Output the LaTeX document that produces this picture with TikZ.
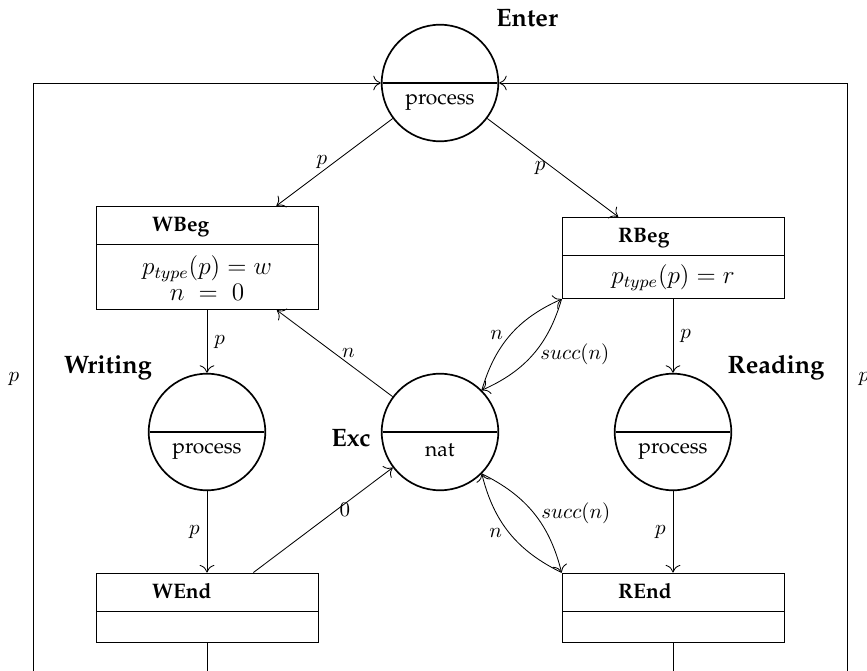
\documentclass[tikz,border=0pt]{standalone}
\usepackage[T1]{fontenc}
\usepackage{palatino}
\usepackage{amsmath}
\usetikzlibrary{shapes.multipart,arrows.meta}

\begin{document}
\begin{tikzpicture}[x=0.476pt,y=0.476pt,>={Computer Modern Rightarrow[length=3.6pt,width=7pt]}]
 \tikzstyle{placenode} = [circle split,draw,thick,minimum size=55.5pt,inner xsep=3pt,inner ysep=5pt]
 \tikzstyle{transbox} = [rectangle split,rectangle split parts=2,draw,text width=99.7pt,inner xsep=3pt,inner ysep=2pt,align=flush center]
 \tikzstyle{namelbl} = [font=\large\bfseries]
 \newcommand{\ttl}[1]{\makebox[52.3pt][l]{\rule[-4.1pt]{0pt}{14pt}\textbf{#1}}}
 \newcommand{\emptypart}{\rule[-3.5pt]{0pt}{10.1pt}}

 \useasboundingbox (0,0) rectangle (867,-671);
 \clip (0,0) rectangle (867,-671);

% Places
 \node[placenode] (enter) at (440,-83) {\nodepart{lower}process};
 \node[placenode] (writing) at (207,-432) {\nodepart{lower}process};
 \node[placenode] (exc) at (440,-432) {\nodepart{lower}nat};
 \node[placenode] (reading) at (673,-432) {\nodepart{lower}process};
 \node[namelbl] (enterlbl) at (527,-18) {Enter};
 \node[namelbl] (writinglbl) at (108,-368) {Writing};
 \node[namelbl] (exclbl) at (351,-438) {Exc};
 \node[namelbl] (readinglbl) at (776,-368) {Reading};

% Transitions
 \node[transbox] (wbeg) at (207,-258) {\ttl{WBeg}
   \nodepart{two}{\large\rule{0pt}{11.8pt}$p_{type}(p) = w$\\[0.5pt]$n \;=\; 0$\rule[-2.2pt]{0pt}{2.2pt}}};
 \node[transbox] (rbeg) at (673,-258) {\ttl{RBeg}
   \nodepart{two}{\large\rule[-5.1pt]{0pt}{16pt}$p_{type}(p) = r$}};
 \node[transbox] (wend) at (207,-607.5) {\ttl{WEnd}\nodepart{two}\emptypart};
 \node[transbox] (rend) at (673,-607.5) {\ttl{REnd}\nodepart{two}\emptypart};

 \coordinate (wcorner) at (33,-675);
 \coordinate (rcorner) at (847,-675);

% Arcs
 \draw[->] (enter) -- node[left] {$p$} (wbeg);
 \draw[->] (enter) -- node[left] {$p$} (rbeg);
 \draw[->] (wbeg) -- node[right] {$p$} (writing);
 \draw[->] (writing) -- node[left] {$p$} (wend);
 \draw[->] (wend) -- node[pos=0.6,right,inner sep=1pt] {$0$} (exc);
 \draw[->] (exc) -- node[right] {$n$} (wbeg);
 \draw[->] (exc.45) to[bend left=25] node[left] {$n$} (rbeg.south west);
 \draw[->] (rbeg.south west) to[bend left=25] node[right] {$succ(n)$} (exc.45);
 \draw[->] (rend.north west) to[bend left=25] node[left] {$n$} (exc.-45);
 \draw[->] (exc.-45) to[bend left=25] node[right] {$succ(n)$} (rend.north west);
 \draw[->] (rbeg) -- node[right] {$p$} (reading);
 \draw[->] (reading) -- node[left] {$p$} (rend);

% Back to Enter
 \draw[->] (wend) -- (wend |- wcorner) -- (wcorner) -- node[left=3pt] {$p$} (wcorner |- enter) -- (enter);
 \draw[->] (rend) -- (rend |- rcorner) -- (rcorner) -- node[right=2pt] {$p$} (rcorner |- enter) -- (enter);

\end{tikzpicture}
\end{document}
